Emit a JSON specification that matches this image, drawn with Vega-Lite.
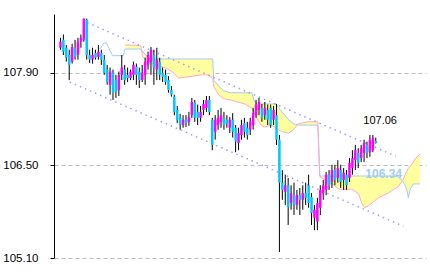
{
"$schema": "https://vega.github.io/schema/vega-lite/v6.json",
"width": 372, "height": 244,
"autosize": {"type": "none"},
"padding": {"left": 54, "top": 14, "right": 4, "bottom": 14},
"background": "white",
"config": {"view": {"stroke": null}, "font": "Liberation Sans"},
"datasets": {
"candles": [
{"t":0,"o":108.28,"h":108.43,"l":108.25,"c":108.37},
{"t":1,"o":108.40,"h":108.48,"l":108.17,"c":108.22},
{"t":2,"o":108.28,"h":108.32,"l":108.07,"c":108.13},
{"t":3,"o":108.17,"h":108.25,"l":107.79,"c":108.02},
{"t":4,"o":108.07,"h":108.34,"l":108.04,"c":108.29},
{"t":5,"o":108.28,"h":108.40,"l":108.10,"c":108.14},
{"t":6,"o":108.17,"h":108.43,"l":108.10,"c":108.37},
{"t":7,"o":108.37,"h":108.48,"l":108.28,"c":108.43},
{"t":8,"o":108.40,"h":108.72,"l":108.37,"c":108.72},
{"t":9,"o":108.70,"h":108.72,"l":108.10,"c":108.17},
{"t":10,"o":108.17,"h":108.25,"l":108.05,"c":108.10},
{"t":11,"o":108.10,"h":108.28,"l":108.04,"c":108.17},
{"t":12,"o":108.20,"h":108.25,"l":108.10,"c":108.13},
{"t":13,"o":108.14,"h":108.32,"l":108.10,"c":108.22},
{"t":14,"o":108.20,"h":108.25,"l":108.02,"c":108.10},
{"t":15,"o":108.10,"h":108.17,"l":107.87,"c":107.90},
{"t":16,"o":107.95,"h":108.02,"l":107.72,"c":107.76},
{"t":17,"o":107.72,"h":107.98,"l":107.57,"c":107.92},
{"t":18,"o":107.90,"h":107.95,"l":107.49,"c":107.60},
{"t":19,"o":107.79,"h":107.87,"l":107.52,"c":107.61},
{"t":20,"o":107.64,"h":107.92,"l":107.55,"c":107.87},
{"t":21,"o":107.87,"h":108.17,"l":107.79,"c":107.98},
{"t":22,"o":107.95,"h":108.02,"l":107.72,"c":107.79},
{"t":23,"o":107.87,"h":107.98,"l":107.76,"c":107.82},
{"t":24,"o":107.82,"h":107.95,"l":107.79,"c":107.92},
{"t":25,"o":107.87,"h":108.07,"l":107.79,"c":108.02},
{"t":26,"o":107.99,"h":108.04,"l":107.72,"c":107.87},
{"t":27,"o":107.92,"h":107.98,"l":107.67,"c":107.79},
{"t":28,"o":107.79,"h":108.02,"l":107.76,"c":107.90},
{"t":29,"o":107.87,"h":108.13,"l":107.72,"c":108.07},
{"t":30,"o":108.02,"h":108.22,"l":107.95,"c":108.17},
{"t":31,"o":108.07,"h":108.29,"l":107.87,"c":108.25},
{"t":32,"o":108.17,"h":108.25,"l":107.72,"c":107.98},
{"t":33,"o":107.95,"h":108.28,"l":107.79,"c":108.10},
{"t":34,"o":108.07,"h":108.13,"l":107.79,"c":107.87},
{"t":35,"o":107.90,"h":107.98,"l":107.76,"c":107.84},
{"t":36,"o":107.87,"h":107.95,"l":107.72,"c":107.76},
{"t":37,"o":107.79,"h":107.85,"l":107.60,"c":107.64},
{"t":38,"o":107.64,"h":107.70,"l":107.54,"c":107.57},
{"t":39,"o":107.54,"h":107.57,"l":107.26,"c":107.31},
{"t":40,"o":107.34,"h":107.40,"l":107.14,"c":107.19},
{"t":41,"o":107.22,"h":107.28,"l":107.04,"c":107.11},
{"t":42,"o":107.11,"h":107.26,"l":107.07,"c":107.19},
{"t":43,"o":107.19,"h":107.26,"l":107.08,"c":107.14},
{"t":44,"o":107.16,"h":107.31,"l":107.10,"c":107.23},
{"t":45,"o":107.26,"h":107.52,"l":107.22,"c":107.46},
{"t":46,"o":107.45,"h":107.49,"l":107.16,"c":107.22},
{"t":47,"o":107.31,"h":107.42,"l":107.11,"c":107.22},
{"t":48,"o":107.22,"h":107.40,"l":107.16,"c":107.31},
{"t":49,"o":107.34,"h":107.49,"l":107.26,"c":107.43},
{"t":50,"o":107.37,"h":107.55,"l":107.31,"c":107.49},
{"t":51,"o":107.49,"h":107.55,"l":107.26,"c":107.31},
{"t":52,"o":107.19,"h":107.22,"l":106.73,"c":106.81},
{"t":53,"o":107.01,"h":107.26,"l":106.89,"c":107.19},
{"t":54,"o":107.11,"h":107.34,"l":107.04,"c":107.22},
{"t":55,"o":107.16,"h":107.37,"l":107.07,"c":107.26},
{"t":56,"o":107.22,"h":107.31,"l":107.04,"c":107.11},
{"t":57,"o":107.19,"h":107.26,"l":107.07,"c":107.13},
{"t":58,"o":107.07,"h":107.23,"l":106.99,"c":107.19},
{"t":59,"o":107.19,"h":107.29,"l":106.92,"c":107.01},
{"t":60,"o":107.07,"h":107.11,"l":106.70,"c":106.86},
{"t":61,"o":106.84,"h":107.07,"l":106.73,"c":106.99},
{"t":62,"o":106.96,"h":107.19,"l":106.89,"c":107.11},
{"t":63,"o":107.14,"h":107.22,"l":106.92,"c":107.01},
{"t":64,"o":107.07,"h":107.16,"l":106.89,"c":106.96},
{"t":65,"o":107.04,"h":107.22,"l":106.96,"c":107.16},
{"t":66,"o":107.11,"h":107.37,"l":107.04,"c":107.29},
{"t":67,"o":107.26,"h":107.49,"l":107.22,"c":107.42},
{"t":68,"o":107.34,"h":107.52,"l":107.26,"c":107.46},
{"t":69,"o":107.37,"h":107.43,"l":107.16,"c":107.22},
{"t":70,"o":107.26,"h":107.46,"l":107.19,"c":107.37},
{"t":71,"o":107.34,"h":107.42,"l":107.11,"c":107.19},
{"t":72,"o":107.37,"h":107.42,"l":107.07,"c":107.11},
{"t":73,"o":107.19,"h":107.40,"l":107.11,"c":107.34},
{"t":74,"o":107.26,"h":107.43,"l":106.81,"c":106.89},
{"t":75,"o":106.89,"h":106.96,"l":105.19,"c":106.24},
{"t":76,"o":106.24,"h":106.43,"l":105.98,"c":106.13},
{"t":77,"o":106.10,"h":106.36,"l":105.90,"c":106.20},
{"t":78,"o":106.20,"h":106.31,"l":105.60,"c":105.87},
{"t":79,"o":105.93,"h":106.20,"l":105.83,"c":106.08},
{"t":80,"o":106.05,"h":106.24,"l":105.75,"c":105.90},
{"t":81,"o":105.90,"h":106.13,"l":105.83,"c":106.05},
{"t":82,"o":106.05,"h":106.16,"l":105.75,"c":105.98},
{"t":83,"o":105.98,"h":106.20,"l":105.83,"c":106.08},
{"t":84,"o":106.08,"h":106.24,"l":105.90,"c":106.01},
{"t":85,"o":106.20,"h":106.36,"l":105.86,"c":105.93},
{"t":86,"o":106.02,"h":106.08,"l":105.60,"c":105.78},
{"t":87,"o":105.71,"h":105.90,"l":105.52,"c":105.83},
{"t":88,"o":105.65,"h":106.01,"l":105.52,"c":105.93},
{"t":89,"o":105.86,"h":106.20,"l":105.75,"c":106.13},
{"t":90,"o":106.08,"h":106.28,"l":105.98,"c":106.20},
{"t":91,"o":106.13,"h":106.40,"l":106.05,"c":106.36},
{"t":92,"o":106.36,"h":106.43,"l":106.13,"c":106.20},
{"t":93,"o":106.25,"h":106.51,"l":106.16,"c":106.43},
{"t":94,"o":106.43,"h":106.51,"l":106.20,"c":106.28},
{"t":95,"o":106.31,"h":106.58,"l":106.24,"c":106.46},
{"t":96,"o":106.43,"h":106.51,"l":106.16,"c":106.25},
{"t":97,"o":106.28,"h":106.46,"l":106.13,"c":106.39},
{"t":98,"o":106.36,"h":106.43,"l":106.13,"c":106.20},
{"t":99,"o":106.31,"h":106.61,"l":106.25,"c":106.54},
{"t":100,"o":106.46,"h":106.73,"l":106.36,"c":106.61},
{"t":101,"o":106.58,"h":106.81,"l":106.43,"c":106.73},
{"t":102,"o":106.69,"h":106.76,"l":106.46,"c":106.54},
{"t":103,"o":106.61,"h":106.81,"l":106.55,"c":106.76},
{"t":104,"o":106.69,"h":106.89,"l":106.55,"c":106.84},
{"t":105,"o":106.81,"h":106.86,"l":106.61,"c":106.69},
{"t":106,"o":106.70,"h":106.96,"l":106.63,"c":106.89},
{"t":107,"o":106.73,"h":106.96,"l":106.70,"c":106.92},
{"t":108,"o":106.87,"h":106.92,"l":106.83,"c":106.84}
],
"cloud": [
{"t":13.5,"a":108.26},
{"t":14.83,"a":108.35},
{"t":15.83,"a":108.35},
{"t":16.83,"a":108.25},
{"t":17.83,"a":108.16},
{"t":21.5,"a":108.16},
{"t":22.17,"a":108.26,"b":108.32},
{"t":24.83,"a":108.26,"b":108.32},
{"t":27.5,"a":108.26,"b":108.31},
{"t":28.17,"a":108.22,"b":108.14},
{"t":30.5,"a":108.11,"b":108.07},
{"t":32.17,"a":108.11,"b":108.02},
{"t":35.83,"a":108.11,"b":107.98},
{"t":38.17,"a":108.11,"b":107.92},
{"t":40.5,"a":108.11,"b":107.82},
{"t":43.83,"a":108.11,"b":107.84},
{"t":48.17,"a":108.11,"b":107.87},
{"t":50.5,"a":108.11,"b":107.87},
{"t":52.17,"a":108.11,"b":107.82},
{"t":52.5,"a":107.79,"b":107.69},
{"t":54.17,"a":107.70,"b":107.57},
{"t":55.83,"a":107.63,"b":107.51},
{"t":58.17,"a":107.60,"b":107.49},
{"t":63.17,"a":107.60,"b":107.43},
{"t":65.5,"a":107.60,"b":107.37},
{"t":66.5,"a":107.46,"b":107.29},
{"t":67.5,"a":107.43,"b":107.19},
{"t":68.83,"a":107.43,"b":107.11},
{"t":69.83,"a":107.43,"b":107.08},
{"t":72.17,"a":107.43,"b":107.11},
{"t":73.83,"a":107.43,"b":107.07},
{"t":75.83,"a":107.31,"b":107.01},
{"t":78.17,"a":107.19,"b":106.99},
{"t":79.83,"a":107.13,"b":107.04},
{"t":81.5,"a":107.11,"b":107.13},
{"t":84.83,"a":107.11,"b":107.16},
{"t":88.17,"a":107.11,"b":107.16},
{"t":88.83,"a":106.34,"b":106.33},
{"t":91.5,"a":106.34,"b":106.25},
{"t":93.17,"a":106.34,"b":106.22},
{"t":95.5,"a":106.34,"b":106.14},
{"t":99.83,"a":106.34,"b":106.14},
{"t":102.17,"a":106.34,"b":106.07},
{"t":103.17,"a":106.34,"b":105.93},
{"t":104.17,"a":106.34,"b":105.86},
{"t":105.5,"a":106.34,"b":105.89},
{"t":107.5,"a":106.34,"b":105.96},
{"t":108.83,"a":106.34,"b":106.01},
{"t":112.17,"a":106.34,"b":106.08},
{"t":114.17,"a":106.34,"b":106.14},
{"t":115.5,"a":106.33,"b":106.17},
{"t":117.17,"a":106.27,"b":106.27},
{"t":118.17,"a":106.19,"b":106.37},
{"t":118.83,"a":106.10,"b":106.43},
{"t":119.17,"a":106.01,"b":106.46},
{"t":119.83,"a":106.14,"b":106.49},
{"t":120.83,"a":106.22,"b":106.55},
{"t":121.5,"a":106.22,"b":106.60},
{"t":123.17,"a":106.22,"b":106.67}
],
"channel": [
{"line":"up","t":9.17,"p":108.66},
{"line":"up","t":114.83,"p":106.64},
{"line":"lo","t":3.17,"p":107.76},
{"line":"lo","t":117.5,"p":105.58}
],
"labels": [
{"t":109.5,"p":107.06,"txt":"107.06","kind":"last"},
{"t":110.7,"p":106.34,"txt":"106.34","kind":"cloud"}
]
},
"layer": [
{
"data": {"name": "cloud"},
"transform": [{"filter": "isValid(datum.b)"}],
"mark": {"type": "area", "color": "#FFFFA0", "opacity": 1},
"encoding": {
"x": {"field": "t", "type": "quantitative", "scale": {"domain": [-0.5, 123.5], "nice": false, "zero": false}, "axis": null},
"y": {"field": "a", "type": "quantitative", "scale": {"domain": [105.1, 108.79], "nice": false, "zero": false},
 "axis": {"values": [105.1, 106.5, 107.9], "format": ".2f", "title": null, "labelFontSize": 11.5, "labelColor": "#000000", "labelFont": "Liberation Sans", "domainColor": "#000000", "domainWidth": 1, "tickColor": "#000000", "tickSize": 4, "labelPadding": 12, "grid": true, "gridColor": "#BBBBBB", "gridDash": [4, 3], "gridWidth": 1}},
"y2": {"field": "b"}
}
},
{
"data": {"name": "cloud"},
"mark": {"type": "line", "color": "#9FCBF5", "strokeWidth": 1},
"encoding": {
"x": {"field": "t", "type": "quantitative"},
"y": {"field": "a", "type": "quantitative"}
}
},
{
"data": {"name": "cloud"},
"transform": [{"filter": "isValid(datum.b)"}],
"mark": {"type": "line", "color": "#FFA8C8", "strokeWidth": 1},
"encoding": {
"x": {"field": "t", "type": "quantitative"},
"y": {"field": "b", "type": "quantitative"}
}
},
{
"data": {"name": "channel"},
"mark": {"type": "line", "color": "#9C9CF0", "strokeWidth": 1.5, "strokeDash": [1.5, 4]},
"encoding": {
"x": {"field": "t", "type": "quantitative"},
"y": {"field": "p", "type": "quantitative"},
"detail": {"field": "line"}
}
},
{
"data": {"name": "candles"},
"mark": {"type": "rule", "color": "#000000", "strokeWidth": 1},
"encoding": {
"x": {"field": "t", "type": "quantitative"},
"y": {"field": "l", "type": "quantitative"},
"y2": {"field": "h"}
}
},
{
"data": {"name": "candles"},
"mark": {"type": "bar", "size": 2.5},
"encoding": {
"x": {"field": "t", "type": "quantitative"},
"y": {"field": "o", "type": "quantitative"},
"y2": {"field": "c"},
"color": {"condition": {"test": "datum.c >= datum.o", "value": "#FF00FF"}, "value": "#00C8FF"}
}
},
{
"data": {"name": "labels"},
"transform": [{"filter": "datum.kind == 'last'"}],
"mark": {"type": "text", "fontSize": 11, "color": "#000000", "baseline": "bottom", "dy": -2, "font": "Liberation Sans"},
"encoding": {
"x": {"field": "t", "type": "quantitative"},
"y": {"field": "p", "type": "quantitative"},
"text": {"field": "txt"}
}
},
{
"data": {"name": "labels"},
"transform": [{"filter": "datum.kind == 'cloud'"}],
"mark": {"type": "text", "fontSize": 12, "fontWeight": "bold", "color": "#9FCBF5", "baseline": "middle", "dy": -2, "font": "Liberation Sans"},
"encoding": {
"x": {"field": "t", "type": "quantitative"},
"y": {"field": "p", "type": "quantitative"},
"text": {"field": "txt"}
}
}
]
}
